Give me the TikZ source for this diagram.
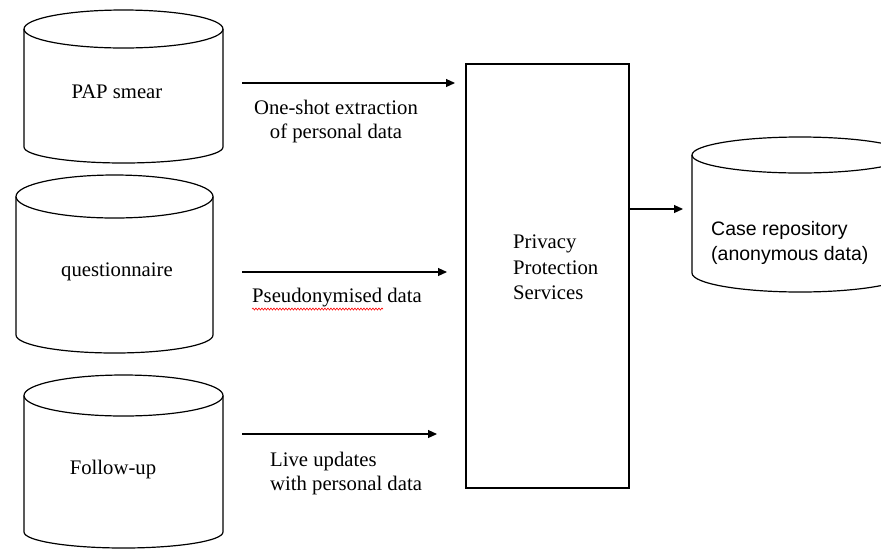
\documentclass[tikz,border=0pt]{standalone}
\usepackage{fontspec}
\setmainfont{Liberation Serif}
\newfontfamily\repofont{Liberation Sans}
\usetikzlibrary{arrows.meta,decorations.pathmorphing,positioning}
\tikzset{
    dbline/.style={line width=1.2pt,black},
    flow/.style={line width=1.2pt,-{Triangle[length=9pt,width=8pt]}},
    lbl/.style={font=\fontsize{20.7}{23.5}\selectfont,inner sep=0pt},
}

\begin{document}
\begin{tikzpicture}[x=1pt,y=-1pt]

    \useasboundingbox (0,0) rectangle (881,550);
    \clip (0,0) rectangle (881,550);

    % data bases on the left
    \draw[dbline] (123.5,29) ellipse [x radius=99.5pt, y radius=19pt];
    \draw[dbline] (24,29) -- (24,147) arc[start angle=180, end angle=360, x radius=99.5pt, y radius=16pt] -- (223,29);

    \draw[dbline] (114.5,196.5) ellipse [x radius=98.5pt, y radius=21.5pt];
    \draw[dbline] (16,196.5) -- (16,335) arc[start angle=180, end angle=360, x radius=98.5pt, y radius=18pt] -- (213,196.5);

    \draw[dbline] (123.5,395.5) ellipse [x radius=99.5pt, y radius=20.5pt];
    \draw[dbline] (24,395.5) -- (24,532) arc[start angle=180, end angle=360, x radius=99.5pt, y radius=16pt] -- (223,395.5);

    \node[lbl] (pap) at (117,92) {PAP smear};
    \node[lbl] (quest) at (117,272) {questionnaire};
    \node[lbl] (follow) at (113,470) {Follow-up};

    % privacy box
    \node[draw,line width=1.3pt,minimum width=163pt,minimum height=424pt,inner sep=0pt] (pps) at (547.5,276) {};
    \node[lbl,align=left,anchor=west,font=\fontsize{20.7}{25.5}\selectfont] (ppstext) at (513,267.5) {Privacy\\Protection\\Services};

    % data base on the right
    \draw[dbline] (800,155) ellipse [x radius=108pt, y radius=18pt];
    \draw[dbline] (692,155) -- (692,273) arc[start angle=180, end angle=360, x radius=108pt, y radius=19pt] -- (908,155);
    \node[lbl,align=left,anchor=west,font=\repofont\fontsize{19.5}{25}\selectfont] (repo) at (711,242.5) {Case repository\\(anonymous data)};

    % arrow ends
    \coordinate (s1) at (242,83);
    \coordinate (e1) at (455,83);

    \coordinate (s2) at (242,272);
    \coordinate (e2) at (447,272);

    \coordinate (s3) at (242,434);
    \coordinate (e3) at (437,434);

    \coordinate (e4) at (683,209);

    \draw[flow] (s1) -- (e1);
    \draw[flow] (s2) -- (e2);
    \draw[flow] (s3) -- (e3);
    \draw[flow] (pps.east |- e4) -- (e4);

    % arrow labels
    \node[lbl,align=center] (oneshot) at (336,121.5) {One-shot extraction\\of personal data};
    \node[lbl] (pseudo) at (337,298) {Pseudonymised data};
    \draw[red,line width=0.6pt,decorate,decoration={snake,amplitude=1pt,segment length=3pt}] (252,309) -- (383,309);
    \node[lbl,align=left,anchor=west] (live) at (270,473.5) {Live updates\\with personal data};

\end{tikzpicture}
\end{document}
